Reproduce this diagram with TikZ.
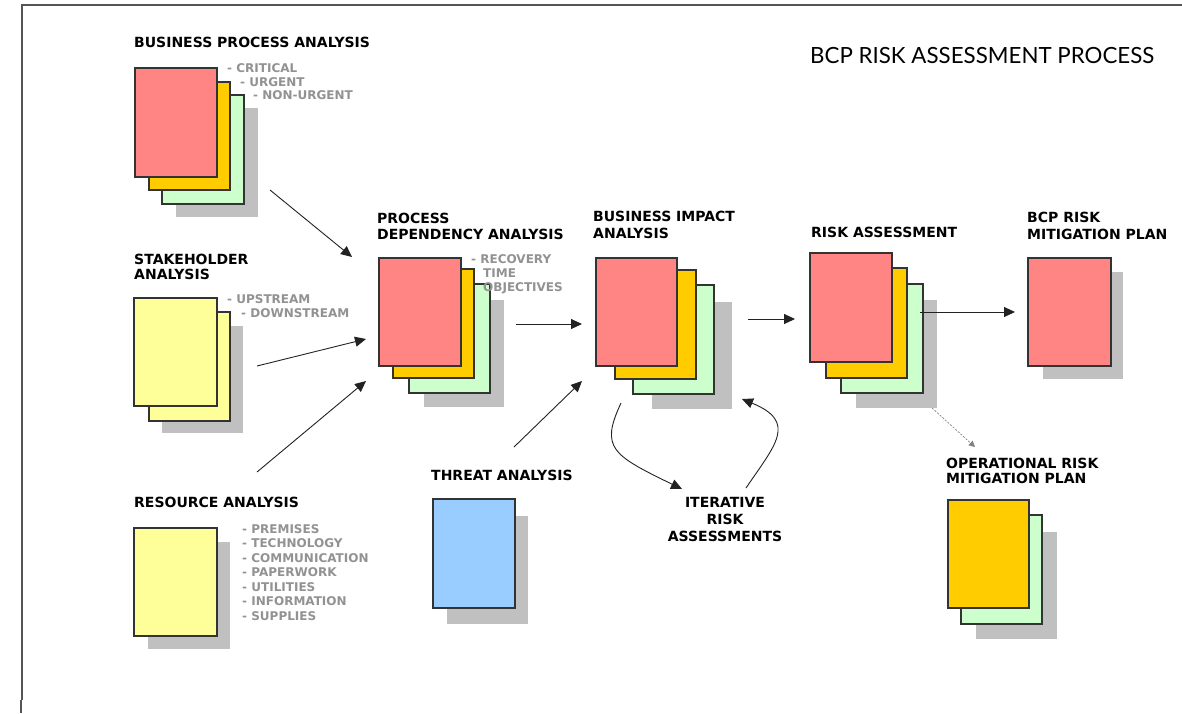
\documentclass[tikz,border=0pt]{standalone}
\usepackage{fontspec}
\setmainfont{DejaVu Sans}
\newfontfamily\titlefont{Lato}
\usetikzlibrary{arrows.meta}
\definecolor{pred}{HTML}{FF8585}
\definecolor{pyellow}{HTML}{FFCC00}
\definecolor{pgreen}{HTML}{CCFFCC}
\definecolor{plight}{HTML}{FFFF99}
\definecolor{pblue}{HTML}{99CCFF}
\definecolor{pshadow}{HTML}{C0C0C0}
\definecolor{pborder}{HTML}{333333}
\definecolor{pgray}{HTML}{929292}
\definecolor{parrow}{HTML}{222222}
\definecolor{pframe}{HTML}{555555}
\newcommand\pagenode[6]{\node[#2, minimum width={(#5)-(#3)}, minimum height={(#6)-(#4)}] (#1) at (#3,#4) {};}
\begin{document}
\begin{tikzpicture}[x=1pt,y=-1pt,
  pg/.style={draw=pborder, line width=1.1pt, anchor=north west, inner sep=0pt, outer sep=0pt},
  shd/.style={fill=pshadow, anchor=north west, inner sep=0pt, outer sep=0pt},
  lab/.style={anchor=north west, inner sep=0pt, align=left, font=\bfseries\fontsize{14}{16}\selectfont},
  labone/.style={anchor=base west, inner sep=0pt, font=\bfseries\fontsize{14}{16}\selectfont},
  sub/.style={anchor=base west, inner sep=0pt, text=pgray, font=\bfseries\fontsize{12}{14.5}\selectfont},
  arr/.style={draw=parrow, line width=0.9pt, -{Triangle[length=11pt,width=10pt]}},
  darr/.style={draw=gray, line width=0.7pt, dash pattern=on 2pt off 1.5pt, -{Triangle[length=6pt,width=6pt]}},
]
\useasboundingbox (0,0) rectangle (1182,713);
\fill[white] (0,0) rectangle (1182,713);
% frame
\draw[pframe, line width=1.3pt] (22,700) -- (22,5) -- (1182,5);
\draw[pframe, line width=1.1pt] (21,700) -- (21,713);

% title
\node[anchor=base west, inner sep=0pt, font=\titlefont\fontsize{22.3}{22.3}\selectfont] (title) at (810,63) {BCP RISK ASSESSMENT PROCESS};

% Business process analysis
\node[labone] (bpal) at (134,47) {BUSINESS PROCESS ANALYSIS};
\pagenode{bpas}{shd}{176}{108}{258}{217}
\pagenode{bpag}{pg,fill=pgreen}{162}{95}{244}{204}
\pagenode{bpay}{pg,fill=pyellow}{149}{82}{230}{190}
\pagenode{bpar}{pg,fill=pred}{135}{68}{217}{177}
\node[sub] (bpa1) at (227,72) {- CRITICAL};
\node[sub] (bpa2) at (240,86) {- URGENT};
\node[sub] (bpa3) at (253,99) {- NON-URGENT};

% Stakeholder analysis
\node[lab, font=\bfseries\fontsize{14}{15}\selectfont] (sal) at (134,253.8) {STAKEHOLDER\\ANALYSIS};
\pagenode{sas}{shd}{162}{326}{243}{433}
\pagenode{say2}{pg,fill=plight}{149}{312}{230}{421}
\pagenode{say1}{pg,fill=plight}{134}{298}{217}{406}
\node[sub] (sa1) at (227,303) {- UPSTREAM};
\node[sub] (sa2) at (241,317) {- DOWNSTREAM};

% Resource analysis
\node[labone] (ral) at (134,507) {RESOURCE ANALYSIS};
\pagenode{ras}{shd}{148}{542}{230}{649}
\pagenode{ray}{pg,fill=plight}{134}{528}{217}{636}
\node[anchor=north west, inner sep=0pt, align=left, text=pgray, font=\bfseries\fontsize{12}{14.5}\selectfont] (ralist) at (242,524.3) {- PREMISES\\- TECHNOLOGY\\- COMMUNICATION\\- PAPERWORK\\- UTILITIES\\- INFORMATION\\- SUPPLIES};

% Process dependency analysis
\node[lab] (pdal) at (377,212.8) {PROCESS\\DEPENDENCY ANALYSIS};
\pagenode{pdas}{shd}{424}{300}{504}{407}
\pagenode{pdag}{pg,fill=pgreen}{409}{284}{490}{393}
\pagenode{pday}{pg,fill=pyellow}{393}{269}{474}{378}
\pagenode{pdar}{pg,fill=pred}{379}{258}{461}{366}
\node[sub] (pd1) at (471,263) {- RECOVERY};
\node[sub] (pd2) at (483,277) {TIME};
\node[sub] (pd3) at (483,291) {OBJECTIVES};

% Business impact analysis
\node[lab, font=\bfseries\fontsize{14}{17}\selectfont] (bial) at (593,210.8) {BUSINESS IMPACT\\ANALYSIS};
\pagenode{bias}{shd}{652}{302}{732}{409}
\pagenode{biag}{pg,fill=pgreen}{633}{285}{714}{394}
\pagenode{biay}{pg,fill=pyellow}{615}{270}{696}{379}
\pagenode{biar}{pg,fill=pred}{596}{258}{677}{366}

% Risk assessment
\node[labone] (rskl) at (811,237) {RISK ASSESSMENT};
\pagenode{rsks}{shd}{856}{300}{937}{408}
\pagenode{rskg}{pg,fill=pgreen}{841}{284}{923}{393}
\pagenode{rsky}{pg,fill=pyellow}{826}{268}{907}{378}
\pagenode{rskr}{pg,fill=pred}{810}{253}{892}{362}

% BCP risk mitigation plan
\node[lab, font=\bfseries\fontsize{14}{17}\selectfont] (bcpl) at (1027,211.8) {BCP RISK\\MITIGATION PLAN};
\pagenode{bcps}{shd}{1043}{272}{1123}{379}
\pagenode{bcpr}{pg,fill=pred}{1028}{258}{1111}{366}

% Operational risk mitigation plan
\node[lab, font=\bfseries\fontsize{14}{15}\selectfont] (opl) at (946,457.8) {OPERATIONAL RISK\\MITIGATION PLAN};
\pagenode{ops}{shd}{976}{532}{1057}{639}
\pagenode{opg}{pg,fill=pgreen}{961}{515}{1042}{624}
\pagenode{opy}{pg,fill=pyellow}{948}{500}{1029}{608}

% Threat analysis
\node[labone] (thl) at (431,480) {THREAT ANALYSIS};
\pagenode{ths}{shd}{447}{516}{528}{624}
\pagenode{thb}{pg,fill=pblue}{433}{499}{515}{608}

% Iterative risk assessments
\node[anchor=north, inner sep=0pt, align=center, font=\bfseries\fontsize{14}{17}\selectfont] (itl) at (725,496.8) {ITERATIVE\\RISK\\ASSESSMENTS};

% connector end points
\coordinate (a1s) at (270,190); \coordinate (a1e) at (352,257);
\coordinate (a2s) at (257,366); \coordinate (a2e) at (366,339);
\coordinate (a3s) at (257,472); \coordinate (a3e) at (366,381);
\coordinate (a4s) at (516,324); \coordinate (a4e) at (582,324);
\coordinate (a5s) at (514,447); \coordinate (a5e) at (582,381);
\coordinate (a6s) at (748,319); \coordinate (a6e) at (795,319);
\coordinate (a7s) at (920,312); \coordinate (a7e) at (1015,312);
\coordinate (a8s) at (932,408); \coordinate (a8e) at (975,447);
\coordinate (c1s) at (621,403); \coordinate (c1e) at (682,489);
\coordinate (c2s) at (746,488); \coordinate (c2e) at (742,399);

\draw[arr] (a1s) -- (a1e);
\draw[arr] (a2s) -- (a2e);
\draw[arr] (a3s) -- (a3e);
\draw[arr] (a4s) -- (a4e);
\draw[arr] (a5s) -- (a5e);
\draw[arr] (a6s) -- (a6e);
\draw[arr] (a7s) -- (a7e);
\draw[darr] (a8s) -- (a8e);
\draw[arr] (c1s) .. controls (600,448) and (612,455) .. (c1e);
\draw[arr] (c2s) .. controls (775,445) and (798,422) .. (c2e);
\end{tikzpicture}
\end{document}
